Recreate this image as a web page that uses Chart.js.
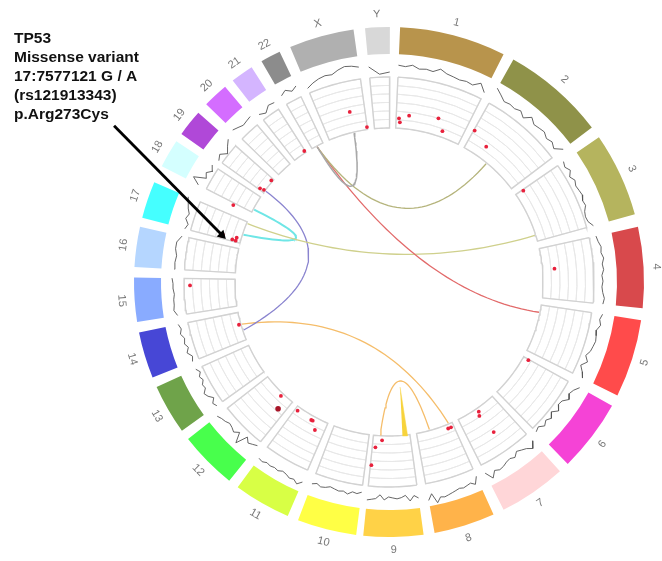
<!DOCTYPE html>
<html>
<head>
<meta charset="utf-8">
<style>
  html, body { margin: 0; padding: 0; background: #fff; }
  #wrap { position: relative; width: 662px; height: 561px; }
  canvas { position: absolute; left: 0; top: 0; }
</style>
<script src="https://cdn.jsdelivr.net/npm/chart.js@4/dist/chart.umd.min.js"></script>
</head>
<body>
<div id="wrap">
<canvas id="ringChart" width="662" height="561"></canvas>
<canvas id="markChart" width="662" height="561"></canvas>
</div>
<script>
// all angles: degrees clockwise from 12 o'clock, all radii: same units as the x/y scales
const chroms = ["1","2","3","4","5","6","7","8","9","10","11","12","13","14","15","16","17","18","19","20","21","22","X","Y"];
const chromStart = [2.5,29.2,55.4,77.5,98.6,119,137.9,155.8,172.2,187.4,203.4,218.8,234.3,248,261,273.4,284.6,297,305.5,314.2,322.2,330,337.2,354.6];
const chromEnd = [26.7,52.7,74.6,95.9,116.4,135.5,153.3,169.7,185.8,200.9,216.4,232,245.7,258.6,271,282.5,293,303.5,311.6,320,327.4,334.6,352,360.2];
const chromColors = ["#b8944c","#8f9249","#b5b45e","#d8494c","#ff4b4b","#f543d6","#ffd6d8","#ffb34a","#ffd247","#ffff45","#d8ff45","#48ff4c","#6fa34a","#4747d6","#89abff","#b5d6ff","#45ffff","#d4ffff","#b048d8","#d46dff","#d4b5ff","#8c8c8c","#b0b0b0","#d8d8d8"];

// coverage track, one list per chromosome, read along the chromosome
const coverage = [
  [217,216,218,215,216,215,219,216,215,214,215,214,219,212],
  [222,218,214,215,214,216,212,218,214,215,216,213,215,212,219],
  [212,210,213,209,212,210,211,212,210,211,208,207,208,212],
  [212,213,215,214,216,214,215,213,214,213,214,216,215],
  [216,214,216,213,214,215,214,213,210,214,209,213,216],
  [218,214,212,215,210,209,213,208,212,209,212,208,210],
  [214,220,216,214,212,216,214,215,217,218,216,222,214],
  [213,220,217,218,219,218,219,220,221,222,221,226,216,222],
  [218,215,220,214,216,217,216,215,218,213,217,218,219],
  [212,214,213,216,214,215,214,213,215,216,214,216],
  [218,222,219,220,218,217,219,218,219,218,220,219],
  [210,212,214,210,222,212,216,214,213,215,216,218],
  [212,214,210,214,216,212,213,210,212,209,212],
  [212,210,214,211,214,212,215,213,215],
  [214,217,216,216,215,216,216,217],
  [215,215,214,216,216,212],
  [211,209,213,211,214,216,218],
  [214,222,210,213,208,212],
  [209,212,206,211,215],
  [218,216,214,215,216],
  [212,209,214,213],
  [215,218,214,217],
  [210,213,215,216,215,218,220,219,217],
  [216,208,210]
];

// variants (red dots)
const variantAngle = [347,351.9,3.5,3.9,6.9,16.8,19.5,29.5,35.7,55.8,85.4,119.3,145.3,146,145.1,158,156.9,182.5,184.7,185.5,254.1,269,223.5,215.4,209.4,208.8,206.6,327.1,310.8,306,306.4,296.3,285.2,285.1,286.2];
const variantRadius = [174.5,156.5,164,160,167.5,171,160,174,166.6,162.4,166,159.8,157.7,161.6,183,158,158,158.5,165.9,184,156,199,157,157.8,158.4,158.3,165.5,156,155.5,159.4,155.4,173.7,162.4,158.8,158.6];
const darkVariantAngle = [285.7,221.2];
const darkVariantRadius = [173.5,168.4];

// links: both ends on the inner ring, plus the point halfway along the curve
const linkStart = [346.8,39.4,332,72.3,298.2,306.4,254,183.3];
const linkEnd = [332,332,101.4,292.4,288,251.7,157.2,164.7];
const linkMidAngle = [338.9,9.2,61,2,295.3,283.9,206.6,173.7];
const linkMidRadius = [103,75,41,28,103,83.4,65,99.6];
const linkColors = ["#a8a8a8","#b5b47c","#e26a6a","#cfd08c","#6fe6e6","#8a84cf","#f5bd6a","#f5bd6a"];
const linkWidths = [1.5,1.3,1.3,1.3,2,1.3,1.3,1.3];

// the thick yellow ribbon on chromosome 9
const ribbonAngle = [175,173.1,174];
const ribbonRadius = [154.6,155,105.6];

const arrowAngle = [299.6,285.7];
const arrowRadius = [316.2,173.5];

const noteLines = ["TP53","Missense variant","17:7577121 G / A","(rs121913343)","p.Arg273Cys"];

const rowCount = 6;
const innerRadius = 154;
const trackInner = 205;
const ringInner = 228;
const outerRadius = 255;
const linkRadius = 153;
const chartPadding = { left: 134, right: 18, top: 27, bottom: 24 };

const toXY = (angle, r) => {
  const a = angle * Math.PI / 180;
  return { x: r * Math.sin(a), y: r * Math.cos(a) };
};

// segment sizes for the doughnut rings: chromosome, gap, chromosome, gap ...
const ringData = [];
chroms.forEach((c, i) => {
  const next = chromStart[(i + 1) % chroms.length] + (i === chroms.length - 1 ? 360 : 0);
  ringData.push(chromEnd[i] - chromStart[i], next - chromEnd[i]);
});
const ringLabels = ringData.map((v, i) => (i % 2 ? "" : chroms[i / 2]));
const everyOther = (val, gap) => ringData.map((v, i) => (i % 2 ? gap : val));

const ringDatasets = [];
ringDatasets.push({
  data: ringData,
  weight: outerRadius - ringInner,
  backgroundColor: ringData.map((v, i) => (i % 2 ? "rgba(0,0,0,0)" : chromColors[i / 2])),
  borderWidth: 0
});
ringDatasets.push({
  data: ringData,
  weight: ringInner - trackInner,
  backgroundColor: "rgba(0,0,0,0)",
  borderWidth: 0
});
for (let r = 0; r < rowCount; r++) {
  ringDatasets.push({
    data: ringData,
    weight: (trackInner - innerRadius) / rowCount,
    backgroundColor: "rgba(0,0,0,0)",
    borderColor: everyOther("#e8e8e8", "rgba(0,0,0,0)"),
    borderWidth: everyOther(1, 0)
  });
}

new Chart(document.getElementById("ringChart"), {
  type: "doughnut",
  data: { labels: ringLabels, datasets: ringDatasets },
  options: {
    responsive: false,
    animation: false,
    rotation: chromStart[0],
    cutout: (innerRadius / outerRadius * 100) + "%",
    layout: { padding: chartPadding },
    plugins: { legend: { display: false }, tooltip: { enabled: false } }
  }
});

const lineDefaults = {
  showLine: true,
  pointRadius: 0,
  clip: false,
  tension: 0
};

// darker frame around each block of rows
const frameDatasets = chroms.map((c, i) => {
  const pts = [];
  for (let a = chromStart[i]; a < chromEnd[i]; a += 1) pts.push(toXY(a, trackInner));
  pts.push(toXY(chromEnd[i], trackInner));
  pts.push(toXY(chromEnd[i], innerRadius));
  for (let a = chromEnd[i]; a > chromStart[i]; a -= 1) pts.push(toXY(a, innerRadius));
  pts.push(toXY(chromStart[i], innerRadius));
  pts.push(toXY(chromStart[i], trackInner));
  return { ...lineDefaults, order: 5, data: pts, borderColor: "#d2d2d2", borderWidth: 1.4 };
});

const coverageDatasets = coverage.map((vals, i) => ({
  ...lineDefaults,
  order: 4,
  data: vals.map((r, j) => toXY(chromStart[i] + (chromEnd[i] - chromStart[i]) * j / (vals.length - 1), r)),
  borderColor: "#555",
  borderWidth: 0.9
}));

const linkDatasets = linkStart.map((s, i) => {
  const p0 = toXY(s, linkRadius);
  const p2 = toXY(linkEnd[i], linkRadius);
  const mid = toXY(linkMidAngle[i], linkMidRadius[i]);
  const cx = 2 * mid.x - (p0.x + p2.x) / 2;
  const cy = 2 * mid.y - (p0.y + p2.y) / 2;
  const pts = [];
  for (let k = 0; k <= 40; k++) {
    const t = k / 40;
    pts.push({
      x: (1 - t) * (1 - t) * p0.x + 2 * t * (1 - t) * cx + t * t * p2.x,
      y: (1 - t) * (1 - t) * p0.y + 2 * t * (1 - t) * cy + t * t * p2.y
    });
  }
  return { ...lineDefaults, order: 3, data: pts, borderColor: linkColors[i], borderWidth: linkWidths[i] };
});

const ribbonDataset = {
  ...lineDefaults,
  order: 3,
  data: ribbonAngle.map((a, i) => toXY(a, ribbonRadius[i])),
  borderColor: "#f7d33c",
  borderWidth: 0.5,
  backgroundColor: "#f7d33c",
  fill: "shape"
};

const variantDataset = {
  order: 2,
  clip: false,
  data: variantAngle.map((a, i) => toXY(a, variantRadius[i])),
  pointRadius: 1.9,
  pointBackgroundColor: "#e8213c",
  pointBorderWidth: 0
};

const darkVariantDataset = {
  order: 2,
  clip: false,
  data: darkVariantAngle.map((a, i) => toXY(a, darkVariantRadius[i])),
  pointRadius: 2.8,
  pointBackgroundColor: "#a81528",
  pointBorderWidth: 0
};

const arrowDataset = {
  ...lineDefaults,
  order: 1,
  data: arrowAngle.map((a, i) => toXY(a, arrowRadius[i])),
  borderColor: "#000",
  borderWidth: 2.8,
  pointRadius: [0, 5.5],
  pointStyle: "triangle",
  pointRotation: 135,
  pointBackgroundColor: "#000",
  pointBorderWidth: 0
};

const textPlugin = {
  id: "textPlugin",
  afterDraw(chart) {
    const ctx = chart.ctx;
    const x = chart.scales.x;
    const y = chart.scales.y;
    ctx.save();
    ctx.fillStyle = "#777";
    ctx.font = "11px 'Liberation Sans'";
    ctx.textAlign = "center";
    ctx.textBaseline = "middle";
    chroms.forEach((c, i) => {
      const mid = (chromStart[i] + chromEnd[i]) / 2;
      const p = toXY(mid, 268);
      let rot = mid;
      if (mid > 90 && mid < 270) rot = mid - 180;
      ctx.save();
      ctx.translate(x.getPixelForValue(p.x), y.getPixelForValue(p.y));
      ctx.rotate(rot * Math.PI / 180);
      ctx.fillText(c, 0, 0);
      ctx.restore();
    });
    ctx.fillStyle = "#111";
    ctx.font = "bold 15.5px 'Liberation Sans'";
    ctx.textAlign = "left";
    ctx.textBaseline = "alphabetic";
    noteLines.forEach((line, i) => ctx.fillText(line, 14, 43 + i * 19));
    ctx.restore();
  }
};

new Chart(document.getElementById("markChart"), {
  type: "scatter",
  data: {
    datasets: [
      ...frameDatasets,
      ...coverageDatasets,
      ...linkDatasets,
      ribbonDataset,
      variantDataset,
      darkVariantDataset,
      arrowDataset
    ]
  },
  options: {
    responsive: false,
    animation: false,
    layout: { padding: chartPadding },
    scales: {
      x: { type: "linear", min: -outerRadius, max: outerRadius, display: false },
      y: { type: "linear", min: -outerRadius, max: outerRadius, display: false }
    },
    plugins: { legend: { display: false }, tooltip: { enabled: false } }
  },
  plugins: [textPlugin]
});
</script>
</body>
</html>
